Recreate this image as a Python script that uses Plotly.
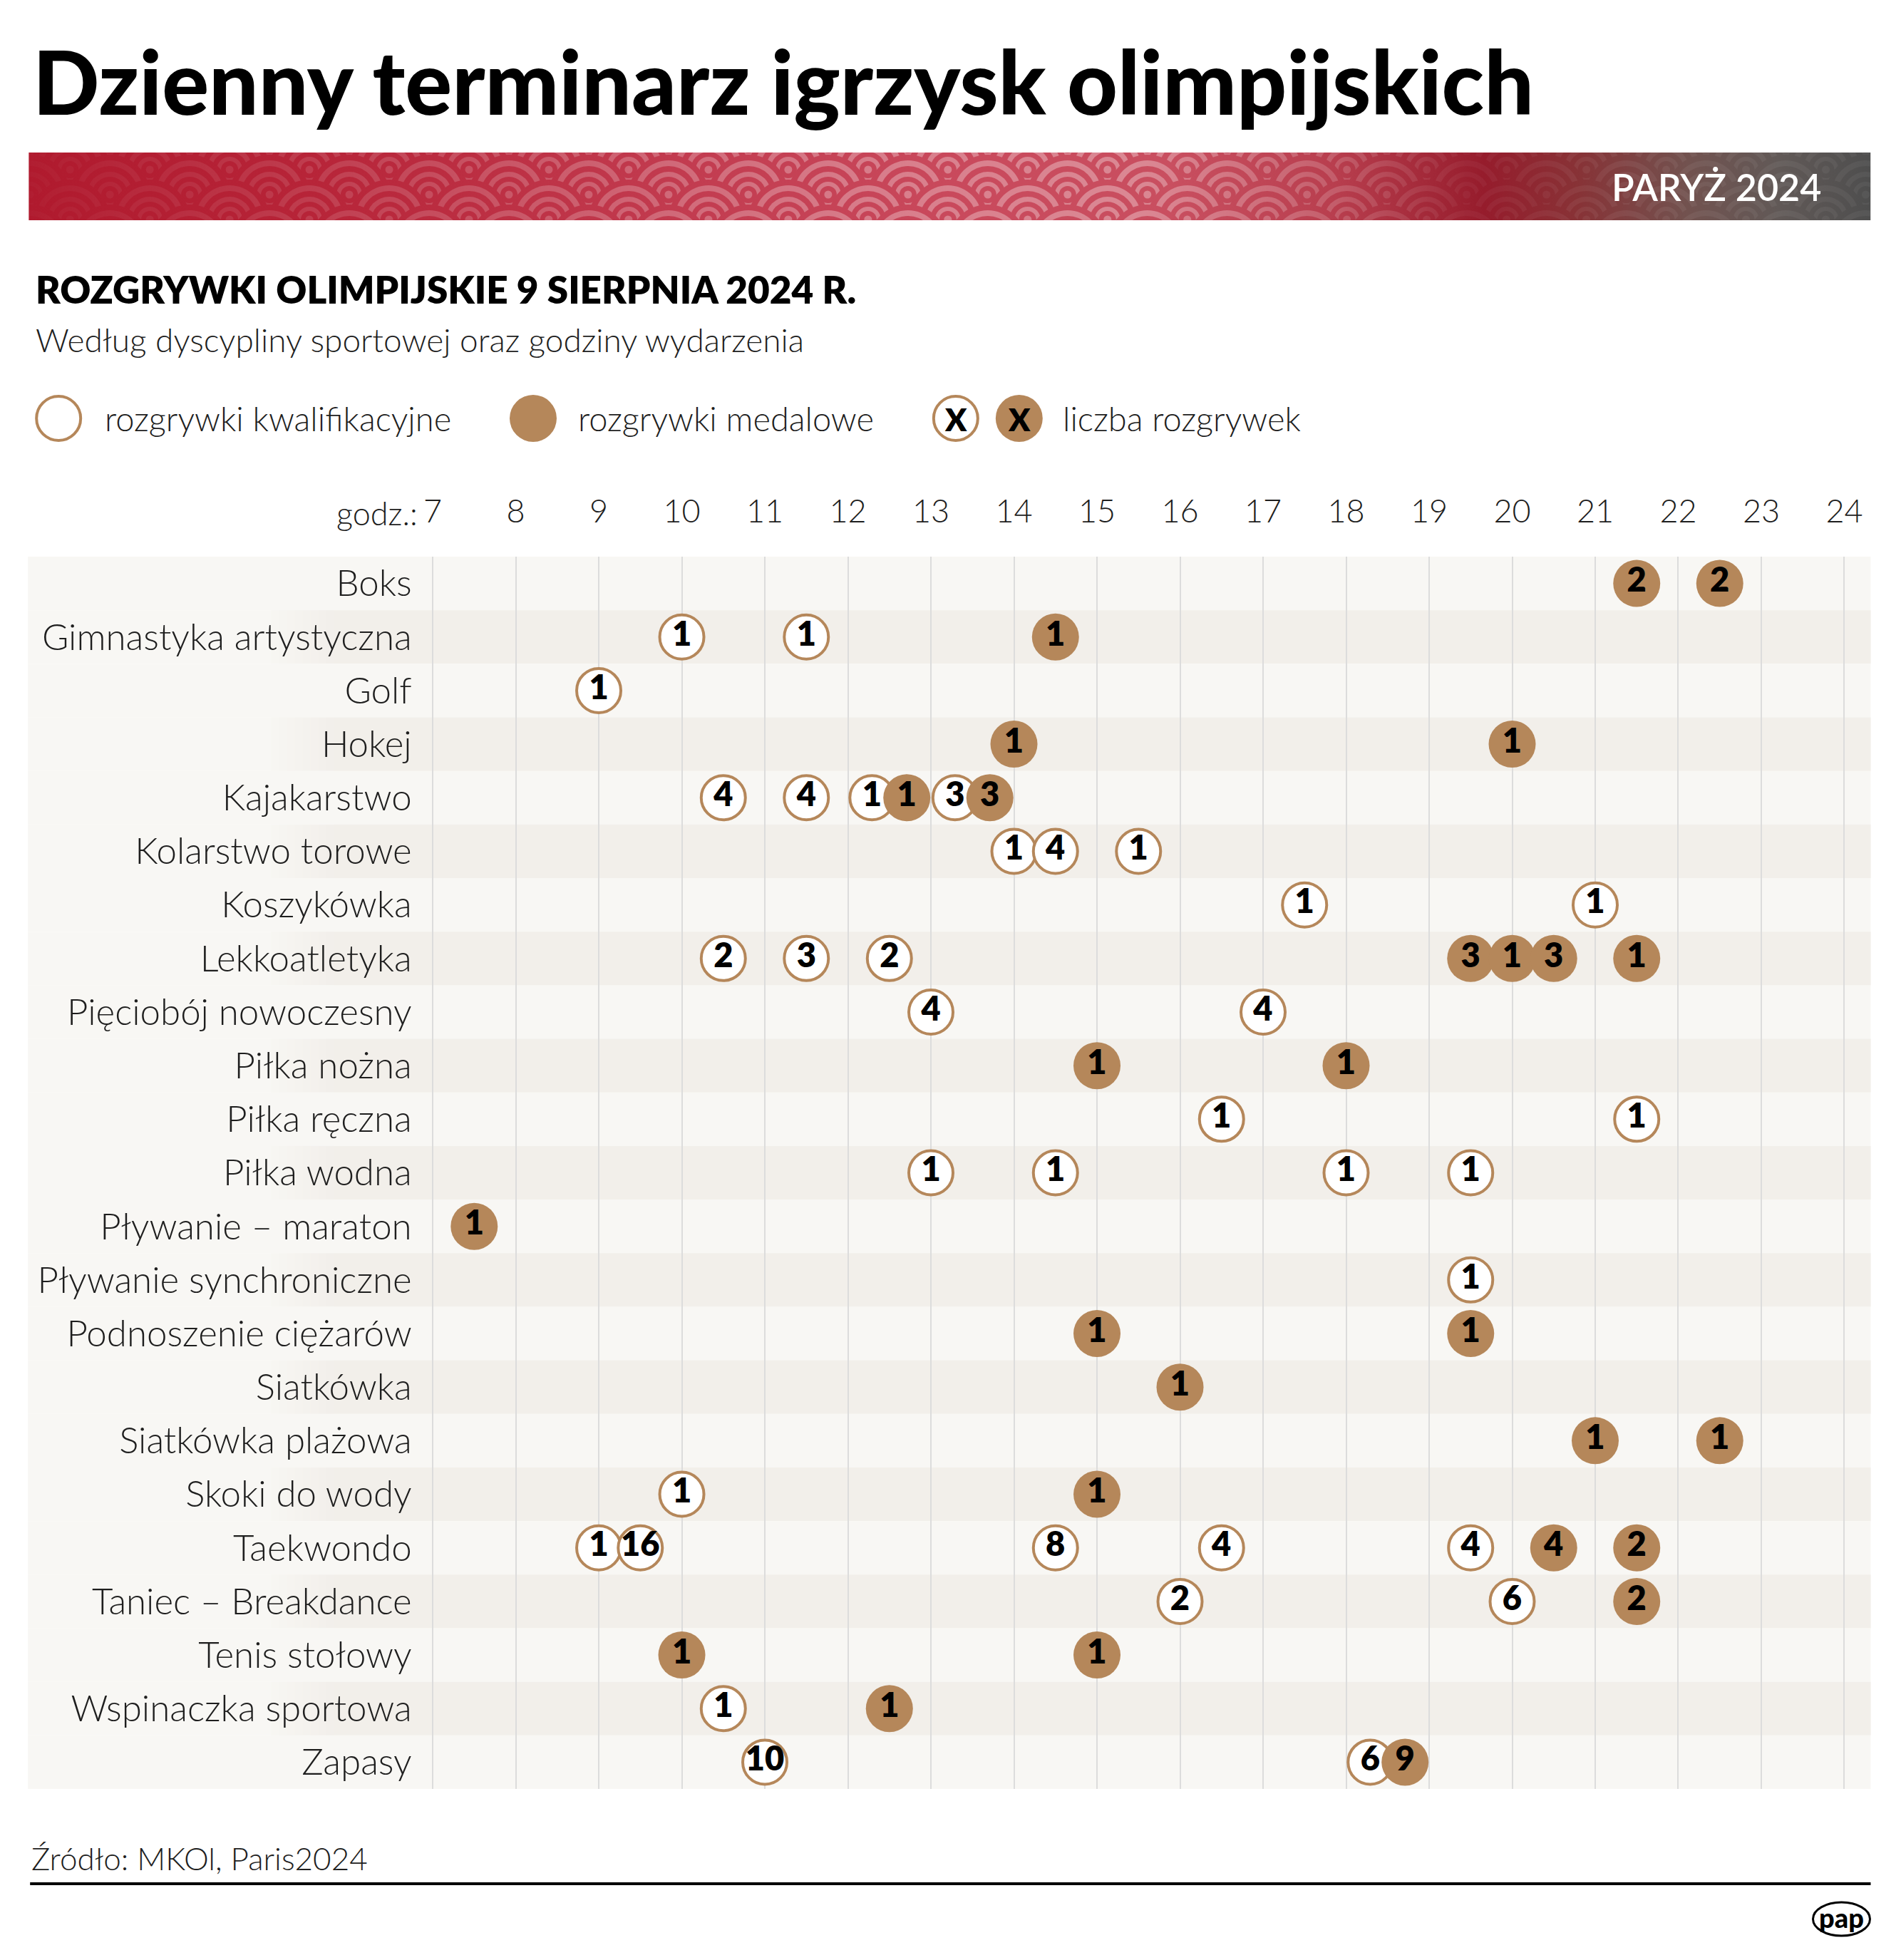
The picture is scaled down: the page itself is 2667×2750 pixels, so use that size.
import base64
import plotly.graph_objects as go

W, H = 2667, 2750

# ---------------- data ----------------
categories = [
    "Boks", "Gimnastyka artystyczna", "Golf", "Hokej", "Kajakarstwo",
    "Kolarstwo torowe", "Koszykówka", "Lekkoatletyka", "Pięciobój nowoczesny",
    "Piłka nożna", "Piłka ręczna", "Piłka wodna", "Pływanie – maraton",
    "Pływanie synchroniczne", "Podnoszenie ciężarów", "Siatkówka",
    "Siatkówka plażowa", "Skoki do wody", "Taekwondo", "Taniec – Breakdance",
    "Tenis stołowy", "Wspinaczka sportowa", "Zapasy",
]

hours = list(range(7, 25))
hour_labels = [str(h) for h in hours]

# qualifying events (open circles)
qual_sport = [
    "Gimnastyka artystyczna", "Gimnastyka artystyczna", "Golf",
    "Kajakarstwo", "Kajakarstwo", "Kajakarstwo", "Kajakarstwo",
    "Kolarstwo torowe", "Kolarstwo torowe", "Kolarstwo torowe",
    "Koszykówka", "Koszykówka",
    "Lekkoatletyka", "Lekkoatletyka", "Lekkoatletyka",
    "Pięciobój nowoczesny", "Pięciobój nowoczesny",
    "Piłka ręczna", "Piłka ręczna",
    "Piłka wodna", "Piłka wodna", "Piłka wodna", "Piłka wodna",
    "Pływanie synchroniczne", "Skoki do wody",
    "Taekwondo", "Taekwondo", "Taekwondo", "Taekwondo", "Taekwondo",
    "Taniec – Breakdance", "Taniec – Breakdance",
    "Wspinaczka sportowa", "Zapasy", "Zapasy",
]
qual_hour = [
    10.0, 11.5, 9.0,
    10.5, 11.5, 12.29, 13.29,
    14.0, 14.5, 15.5,
    17.5, 21.0,
    10.5, 11.5, 12.5,
    13.0, 17.0,
    16.5, 21.5,
    13.0, 14.5, 18.0, 19.5,
    19.5, 10.0,
    9.0, 9.5, 14.5, 16.5, 19.5,
    16.0, 20.0,
    10.5, 11.0, 18.29,
]
qual_count = [
    1, 1, 1,
    4, 4, 1, 3,
    1, 4, 1,
    1, 1,
    2, 3, 2,
    4, 4,
    1, 1,
    1, 1, 1, 1,
    1, 1,
    1, 16, 8, 4, 4,
    2, 6,
    1, 10, 6,
]

# medal events (filled circles)
medal_sport = [
    "Boks", "Boks", "Gimnastyka artystyczna", "Hokej", "Hokej",
    "Kajakarstwo", "Kajakarstwo",
    "Lekkoatletyka", "Lekkoatletyka", "Lekkoatletyka", "Lekkoatletyka",
    "Piłka nożna", "Piłka nożna", "Pływanie – maraton",
    "Podnoszenie ciężarów", "Podnoszenie ciężarów", "Siatkówka",
    "Siatkówka plażowa", "Siatkówka plażowa", "Skoki do wody",
    "Taekwondo", "Taekwondo", "Taniec – Breakdance",
    "Tenis stołowy", "Tenis stołowy", "Wspinaczka sportowa", "Zapasy",
]
medal_hour = [
    21.5, 22.5, 14.5, 14.0, 20.0,
    12.71, 13.71,
    19.5, 20.0, 20.5, 21.5,
    15.0, 18.0, 7.5,
    15.0, 19.5, 16.0,
    21.0, 22.5, 15.0,
    20.5, 21.5, 21.5,
    10.0, 15.0, 12.5, 18.71,
]
medal_count = [
    2, 2, 1, 1, 1,
    1, 3,
    3, 1, 3, 1,
    1, 1, 1,
    1, 1, 1,
    1, 1, 1,
    4, 2, 2,
    1, 1, 1, 9,
]

# ---------------- style ----------------
BRONZE = "#b5875a"
LIGHT_ROW = "#f8f7f4"
DARK_ROW = "#f2efea"
GRID = "#dcdcdc"
TXT = "#1e1e1e"
FONT = "Lato"

# screen-space calibration (observed page rendering offset/scale)
KX, AX, AY = 0.9864, 19.8, 8.0

X7, X24 = 607.0, 2588.0          # target pixel x of hour 7 and hour 24
PLOT_TOP, PLOT_BOT = 781.0, 2510.0
px_per_h = (X24 - X7) / 17.0
r0, r1 = 6.99, 24.01


def pxx(x):
    return ((x - AX) / KX) / W


def pxy(y):
    return 1 - (y - AY) / H


dom_x = [pxx(X7 + (r0 - 7) * px_per_h), pxx(X7 + (r1 - 7) * px_per_h)]
dom_y = [pxy(PLOT_BOT), pxy(PLOT_TOP)]

# ---------------- banner (decorative svg) ----------------
BW, BH = 2585, 95
bg_stops = [
    (0.00, "#b01a2e"), (0.15, "#b72438"), (0.35, "#c23b4f"), (0.50, "#c9495c"),
    (0.62, "#c94f60"), (0.71, "#b83e4e"), (0.79, "#961c2c"), (0.84, "#883236"),
    (0.90, "#72524f"), (0.95, "#615957"), (1.00, "#4e4e4e"),
]
ov_stops = [
    (0.00, 0.02), (0.08, 0.07), (0.25, 0.18), (0.45, 0.30), (0.60, 0.33),
    (0.70, 0.18), (0.78, 0.04), (0.86, 0.06), (1.00, 0.05),
]
svg = [
    '<svg xmlns="http://www.w3.org/2000/svg" xmlns:xlink="http://www.w3.org/1999/xlink" '
    f'width="{BW}" height="{BH}" viewBox="0 0 {BW} {BH}" preserveAspectRatio="none"><defs>',
    '<linearGradient id="bg" x1="0" y1="0" x2="1" y2="0">',
]
for o, c in bg_stops:
    svg.append(f'<stop offset="{o}" stop-color="{c}"/>')
svg.append('</linearGradient><linearGradient id="ov" x1="0" y1="0" x2="1" y2="0">')
for o, a in ov_stops:
    svg.append(f'<stop offset="{o}" stop-color="#ffffff" stop-opacity="{a}"/>')
svg.append('</linearGradient>')
svg.append('<g id="s">')
for rr, col in [(56, "#000"), (48, "#fff"), (40, "#000"), (32, "#fff"),
                (25, "#000"), (18, "#fff"), (12, "#000"), (5.5, "#fff")]:
    svg.append(f'<circle cx="0" cy="0" r="{rr}" fill="{col}"/>')
svg.append('</g>')
svg.append(f'<mask id="m" maskUnits="userSpaceOnUse" x="0" y="0" width="{BW}" height="{BH}">')
svg.append(f'<rect x="0" y="0" width="{BW}" height="{BH}" fill="#000"/>')
for k, cy in enumerate([-11, 24, 59, 94, 129]):
    off = 58 if k % 2 == 1 else 2
    cx = off - 112
    while cx < BW + 60:
        svg.append(f'<use xlink:href="#s" x="{cx}" y="{cy}"/>')
        cx += 112
svg.append('</mask></defs>')
svg.append(f'<rect x="0" y="0" width="{BW}" height="{BH}" fill="url(#bg)"/>')
svg.append(f'<rect x="0" y="0" width="{BW}" height="{BH}" fill="url(#ov)" mask="url(#m)"/>')
svg.append('</svg>')
svg_uri = "data:image/svg+xml;base64," + base64.b64encode("".join(svg).encode()).decode()

# ---------------- figure ----------------
fig = go.Figure()

q_y = [categories.index(s) for s in qual_sport]
m_y = [categories.index(s) for s in medal_sport]

fig.add_trace(go.Scatter(
    x=qual_hour, y=q_y, mode="markers+text",
    text=[str(c) for c in qual_count], textposition="middle center",
    marker=dict(size=62, color="white", line=dict(color=BRONZE, width=4)),
    textfont=dict(family=FONT, size=47, color="black", weight=800),
    hoverinfo="skip", showlegend=False, cliponaxis=False,
))
fig.add_trace(go.Scatter(
    x=medal_hour, y=m_y, mode="markers+text",
    text=[str(c) for c in medal_count], textposition="middle center",
    marker=dict(size=66, color=BRONZE, line=dict(width=0)),
    textfont=dict(family=FONT, size=47, color="black", weight=800),
    hoverinfo="skip", showlegend=False, cliponaxis=False,
))

shapes = []
# row bands
for i in range(len(categories)):
    shapes.append(dict(type="rect", xref="paper", yref="y", x0=pxx(39), x1=pxx(2625),
                       y0=i - 0.5, y1=i + 0.5, fillcolor=LIGHT_ROW, line=dict(width=0),
                       layer="below"))
    if i % 2 == 1:
        steps = 8
        for s in range(steps):
            t = (s + 1) / (steps + 1)
            r_ = int(0xf8 + (0xf2 - 0xf8) * t)
            g_ = int(0xf7 + (0xef - 0xf7) * t)
            b_ = int(0xf4 + (0xea - 0xf4) * t)
            shapes.append(dict(type="rect", xref="paper", yref="y",
                               x0=pxx(380 + s * 11), x1=pxx(380 + (s + 1) * 11),
                               y0=i - 0.5, y1=i + 0.5, fillcolor=f"rgb({r_},{g_},{b_})",
                               line=dict(width=0), layer="below"))
        shapes.append(dict(type="rect", xref="paper", yref="y", x0=pxx(468), x1=pxx(2625),
                           y0=i - 0.5, y1=i + 0.5, fillcolor=DARK_ROW, line=dict(width=0),
                           layer="below"))


def circ(cx, cy, r, fill, lw, lc):
    return dict(type="circle", xref="paper", yref="paper",
                x0=pxx(cx - r), x1=pxx(cx + r), y0=pxy(cy + r), y1=pxy(cy - r),
                fillcolor=fill, line=dict(width=lw, color=lc), layer="above")


LEG_Y = 587
shapes.append(circ(82, LEG_Y, 31, "white", 4, BRONZE))
shapes.append(circ(748, LEG_Y, 33, BRONZE, 0, BRONZE))
shapes.append(circ(1341, LEG_Y, 31, "white", 4, BRONZE))
shapes.append(circ(1430, LEG_Y, 33, BRONZE, 0, BRONZE))

# footer line
shapes.append(dict(type="line", xref="paper", yref="paper", x0=pxx(42), x1=pxx(2625),
                   y0=pxy(2643), y1=pxy(2643), line=dict(color="black", width=4)))
# pap logo ellipse
shapes.append(dict(type="circle", xref="paper", yref="paper",
                   x0=pxx(2544), x1=pxx(2624), y0=pxy(2716), y1=pxy(2669),
                   fillcolor="white", line=dict(color="black", width=3)))

ann = []


def text(x, y, s, size, weight=300, color=TXT, xanchor="left", family=FONT):
    ann.append(dict(x=pxx(x), y=pxy(y), xref="paper", yref="paper", text=s,
                    showarrow=False, xanchor=xanchor, yanchor="middle",
                    font=dict(family=family, size=size, color=color, weight=weight)))


text(44, 113, "Dzienny terminarz igrzysk olimpijskich", 123, weight=900, color="black")
text(2558, 262, "PARYŻ 2024", 52, weight=600, color="white", xanchor="right")
text(48, 406, "ROZGRYWKI OLIMPIJSKIE 9 SIERPNIA 2024 R.", 53, weight=800, color="black")
text(48, 476, "Według dyscypliny sportowej oraz godziny wydarzenia", 46)
text(145, 587, "rozgrywki kwalifikacyjne", 47)
text(809, 587, "rozgrywki medalowe", 47)
text(1489, 587, "liczba rozgrywek", 47)
text(1341, 588, "X", 44, weight=800, color="black", xanchor="center")
text(1430, 588, "X", 44, weight=800, color="black", xanchor="center")
text(588, 720, "godz.:", 45, xanchor="right")
text(42, 2607, "Źródło: MKOl, Paris2024", 44)
text(2584, 2690, "pap", 38, weight=900, color="black", xanchor="center")

fig.update_layout(
    width=W, height=H, autosize=False,
    margin=dict(l=0, r=0, t=0, b=0, pad=0),
    paper_bgcolor="white", plot_bgcolor="rgba(0,0,0,0)",
    showlegend=False,
    xaxis=dict(domain=dom_x, range=[r0, r1], side="top", tickmode="array",
               tickvals=hours, ticktext=hour_labels, showgrid=True, gridcolor=GRID,
               gridwidth=2, zeroline=False, showline=False, ticks="outside",
               ticklen=29, tickcolor="rgba(0,0,0,0)",
               tickfont=dict(family=FONT, size=45, color=TXT, weight=300),
               fixedrange=True),
    yaxis=dict(domain=dom_y, range=[len(categories) - 0.5, -0.5], tickmode="array",
               tickvals=list(range(len(categories))), ticktext=categories,
               showgrid=False, zeroline=False, showline=False, ticks="outside",
               ticklen=17, tickcolor="rgba(0,0,0,0)",
               tickfont=dict(family=FONT, size=51, color=TXT, weight=300),
               fixedrange=True),
    shapes=shapes, annotations=ann,
    images=[dict(source=svg_uri, xref="paper", yref="paper", x=pxx(40), y=pxy(214),
                 sizex=pxx(2625) - pxx(40), sizey=BH / H, xanchor="left", yanchor="top",
                 sizing="stretch", layer="above")],
)

fig.write_html("out.html")
